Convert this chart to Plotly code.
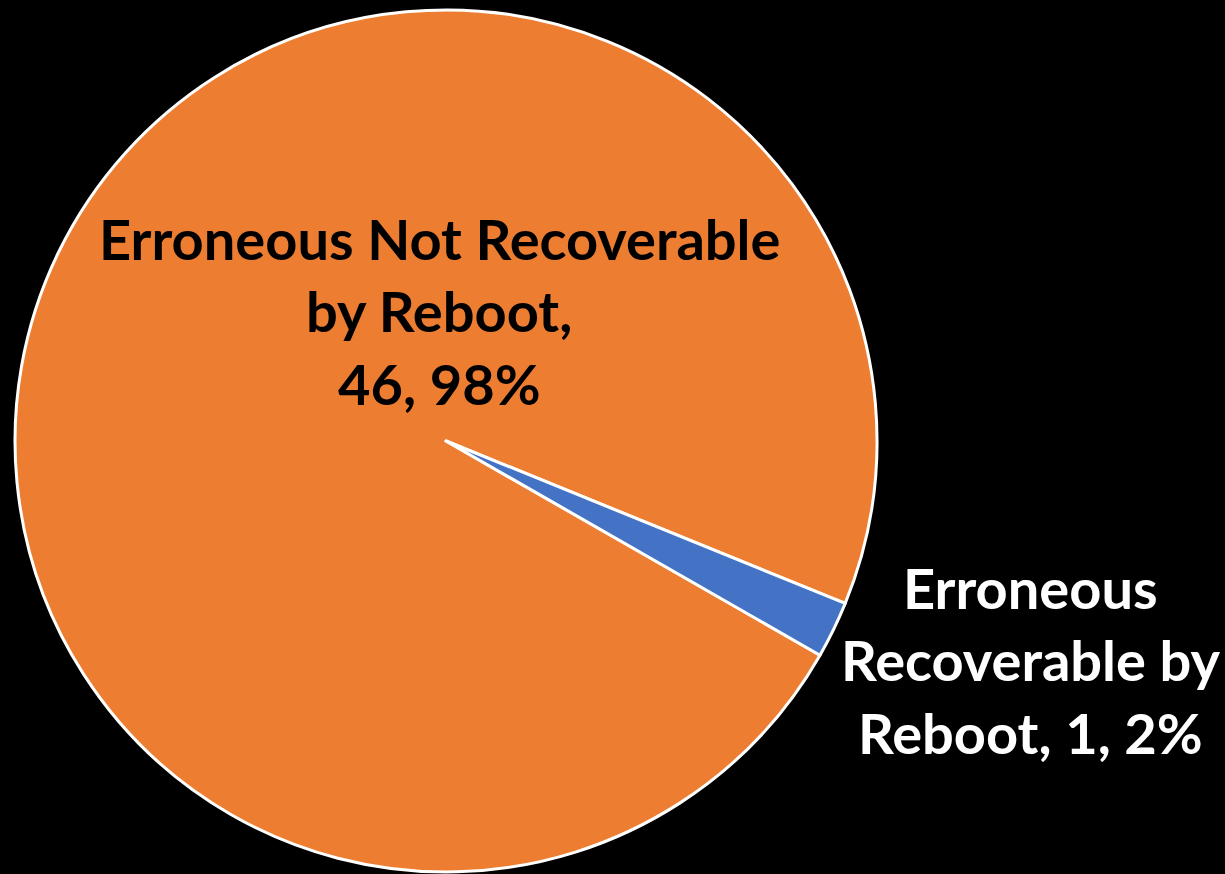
import plotly.graph_objects as go

# Slice data
labels = ["Erroneous Not Recoverable<br>by Reboot,", "Erroneous<br>Recoverable by<br>Reboot,"]
values = [46, 1]
colors = ["#ED7D31", "#4472C4"]
label_colors = ["#000000", "#FFFFFF"]

# Label anchor points (paper coords) for each slice's label block
label_x = [439 / 1225, 1030 / 1225]
label_y_top = [1 - 238 / 874, 1 - 587 / 874]

total = sum(values)
W, H = 1225, 874
LINE_PX = 72.5

fig = go.Figure(
    go.Pie(
        labels=[l.replace("<br>", " ") for l in labels],
        values=values,
        marker=dict(colors=colors, line=dict(color="#FFFFFF", width=3)),
        sort=False,
        direction="clockwise",
        rotation=119.8,
        textinfo="none",
        hoverinfo="label+value+percent",
        domain=dict(x=[15 / W, 877 / W], y=[2 / H, 864 / H]),
        showlegend=False,
    )
)

annotations = []
for lab, val, col, x0, y0 in zip(labels, values, label_colors, label_x, label_y_top):
    pct = round(100 * val / total)
    parts = lab.split("<br>")
    parts[-1] = f"{parts[-1]}<br>{val}, {pct}%" if len(parts) == 2 else f"{parts[-1]} {val}, {pct}%"
    lines = "<br>".join(parts).split("<br>")
    for i, line in enumerate(lines):
        annotations.append(
            dict(
                x=x0,
                y=y0 - i * LINE_PX / H,
                xref="paper",
                yref="paper",
                text=f"<b>{line}</b>",
                showarrow=False,
                xanchor="center",
                yanchor="middle",
                font=dict(family="Lato", size=56, color=col),
            )
        )

fig.update_layout(
    width=W,
    height=H,
    margin=dict(l=0, r=0, t=0, b=0),
    paper_bgcolor="#000000",
    plot_bgcolor="#000000",
    annotations=annotations,
)

fig.write_html("out.html")
